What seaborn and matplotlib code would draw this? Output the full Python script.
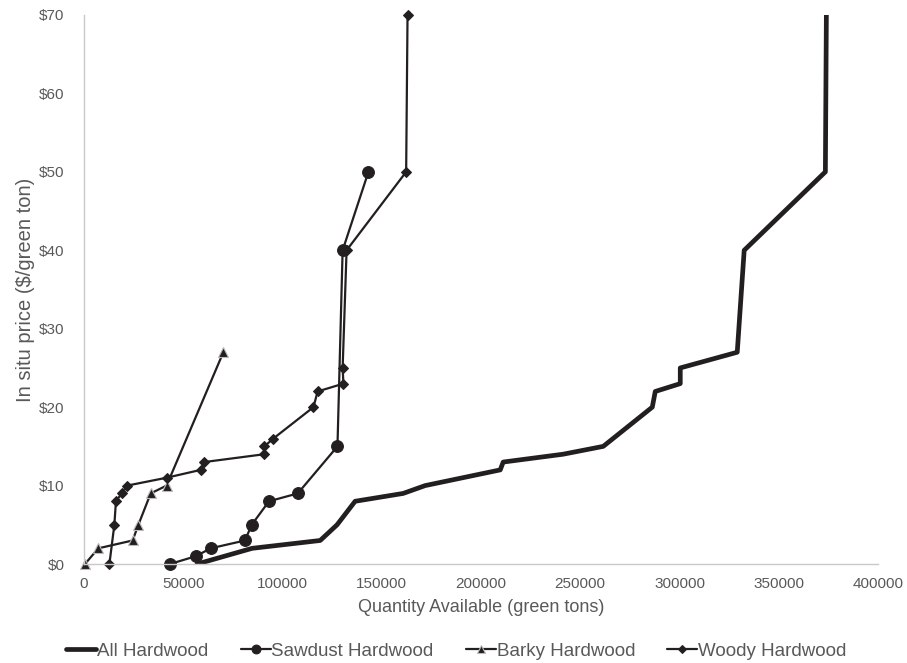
import pandas as pd
import matplotlib.pyplot as plt
import seaborn as sns

all_qty = [57000, 84700, 119000, 127500, 136600, 160800, 171900, 209700, 211200, 241400,
           261600, 286300, 287800, 300400, 300400, 329100, 332600, 373500, 374000]
all_price = [0, 2, 3, 5, 8, 9, 10, 12, 13, 14, 15, 20, 22, 23, 25, 27, 40, 50, 70]

sawdust_qty = [43300, 56400, 63800, 81100, 84500, 93200, 107700, 127700, 130300, 143300]
sawdust_price = [0, 1, 2, 3, 5, 8, 9, 15, 40, 50]

barky_qty = [500, 7200, 24500, 27400, 33600, 41600, 70200]
barky_price = [0, 2, 3, 5, 9, 10, 27]

woody_qty = [12800, 15300, 16100, 19000, 21800, 41600, 58800, 60600, 90900, 90900,
             95400, 115600, 117700, 130700, 130300, 132300, 162300, 163000]
woody_price = [0, 5, 8, 9, 10, 11, 12, 13, 14, 15, 16, 20, 22, 23, 25, 40, 50, 70]

sns.set_style("white")
plt.rcParams['font.family'] = ['Liberation Sans', 'DejaVu Sans']

ink = '#231f20'
grey = '#595959'

fig = plt.figure(figsize=(9.07, 6.63), dpi=100)
ax = fig.add_axes([0.0926, 0.1493, 0.8754, 0.8281])

sns.lineplot(x=all_qty, y=all_price, sort=False, estimator=None, ax=ax,
             color=ink, linewidth=3.4, label='All Hardwood')
sns.lineplot(x=sawdust_qty, y=sawdust_price, sort=False, estimator=None, ax=ax,
             color=ink, linewidth=1.6, marker='o', markersize=8.5,
             markeredgecolor=ink, label='Sawdust Hardwood', clip_on=False)
sns.lineplot(x=barky_qty, y=barky_price, sort=False, estimator=None, ax=ax,
             color=ink, linewidth=1.6, marker='^', markersize=7,
             markeredgecolor='#bbbbbb', markeredgewidth=0.8, label='Barky Hardwood',
             clip_on=False)
sns.lineplot(x=woody_qty, y=woody_price, sort=False, estimator=None, ax=ax,
             color=ink, linewidth=1.6, marker='D', markersize=5.5,
             markeredgecolor=ink, label='Woody Hardwood', clip_on=False)

ax.set_xlim(0, 400000)
ax.set_ylim(0, 70)
ax.set_xticks(range(0, 400001, 50000))
ax.set_yticks(range(0, 71, 10))
ax.set_yticklabels([f'${v}' for v in range(0, 71, 10)])
ax.tick_params(labelsize=11, colors=grey, length=0)
ax.tick_params(axis='y', pad=14)
ax.tick_params(axis='x', pad=9)

for side in ['top', 'right']:
    ax.spines[side].set_visible(False)
for side in ['left', 'bottom']:
    ax.spines[side].set_color('#c8c8c8')
    ax.spines[side].set_linewidth(1)

ax.set_xlabel('Quantity Available (green tons)', fontsize=13, color=grey, labelpad=6)
ax.set_ylabel('In situ price ($/green ton)', fontsize=14.5, color=grey, labelpad=3)

ax.legend(loc='upper center', bbox_to_anchor=(0.469, -0.113), ncol=4, frameon=False,
          fontsize=13.5, labelcolor=grey, handlelength=1.6, handletextpad=0.05,
          columnspacing=1.7, markerscale=0.75)

fig.savefig('out.png', dpi=100)
